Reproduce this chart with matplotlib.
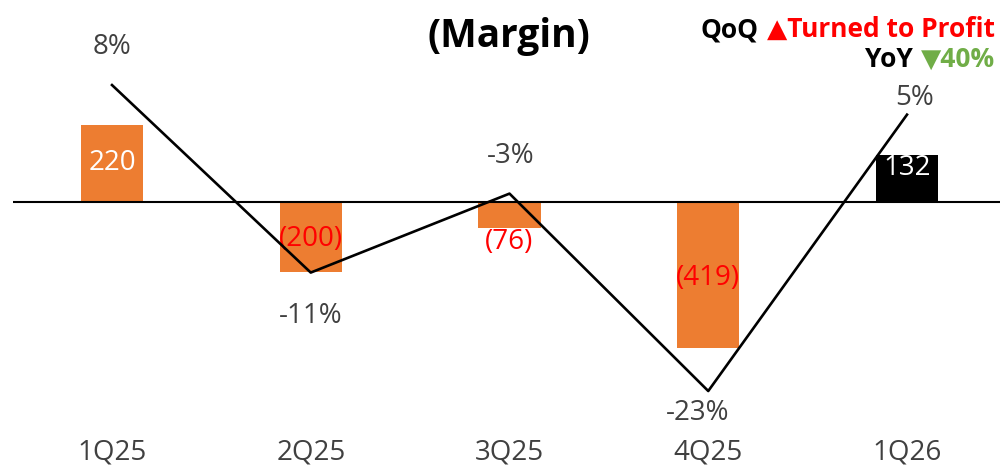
import matplotlib
matplotlib.use("Agg")
import matplotlib.pyplot as plt

# Quarterly operating result (bars) and margin in percent (line)
quarters = ["1Q25", "2Q25", "3Q25", "4Q25", "1Q26"]
profit = [220, -200, -76, -419, 132]
margin = [8, -11, -3, -23, 5]
profit_labels = ["220", "(200)", "(76)", "(419)", "132"]
margin_labels = ["8%", "-11%", "-3%", "-23%", "5%"]

W, H, DPI = 1000, 471, 100
FONT = ["Open Sans", "DejaVu Sans"]
plt.rcParams["font.family"] = FONT

ORANGE = "#ED7D31"
GREY = "#404040"
RED = "#FF0000"
GREEN = "#70AD47"

fig = plt.figure(figsize=(W / DPI, H / DPI), dpi=DPI)
ax = fig.add_axes([0, 0, 1, 1])
ax.set_xlim(-112 / 198.75, (W - 112) / 198.75)
ax.set_ylim(-(H - 201.5) / 0.35, 201.5 / 0.35)
ax.axis("off")

bar_colors = [ORANGE, ORANGE, ORANGE, ORANGE, "#000000"]
x = list(range(len(quarters)))
ax.bar(x, profit, width=0.312, color=bar_colors, zorder=2)
ax.plot([-0.5, 4.5], [0, 0], color="#000000", lw=1.5, zorder=3,
        solid_capstyle="butt")

# bar value labels: (anchor, offset in points, colour)
px = 0.72  # points per pixel
bar_label_style = [
    ("center", 0, "white"),
    ("center", -3, RED),
    ("end", -14, RED),
    ("center", -3, RED),
    ("end", -13, "white"),
]
for i, (v, lab, (anchor, dy, col)) in enumerate(zip(profit, profit_labels, bar_label_style)):
    y = v / 2 if anchor == "center" else v
    ax.annotate(lab, xy=(i, y), xytext=(0, dy * px), textcoords="offset points",
                ha="center", va="center", fontsize=20, color=col, zorder=4)

# category labels under the plot
for i, q in enumerate(quarters):
    ax.text(i, 1 - 452.5 / H, q, transform=ax.get_xaxis_transform(),
            ha="center", va="center", fontsize=20, color=GREY)

ax2 = ax.twinx()
ax2.set_ylim(-(H - 164) / 9.87, 164 / 9.87)
ax2.axis("off")
ax2.plot(x, margin, color="#000000", lw=1.9, zorder=5)

margin_offsets = [(0, 38.5), (0, -43), (1, 38), (-11, -22), (8, 16.5)]
for i, (m, lab, (dx, dy)) in enumerate(zip(margin, margin_labels, margin_offsets)):
    ax2.annotate(lab, xy=(i, m), xytext=(dx * px, dy * px), textcoords="offset points",
                 ha="center", va="center", fontsize=20, color=GREY)

# title and growth notes
fig.text(509 / W, 1 - 47 / H, "(Margin)", ha="center", va="baseline",
         fontsize=28, fontweight="bold", color="#000000")

fig.canvas.draw()
renderer = fig.canvas.get_renderer()


def note(y_px, head, tail, tail_color):
    t = fig.text(995 / W, 1 - y_px / H, tail, ha="right", va="baseline",
                 fontsize=19, fontweight="bold", color=tail_color, family=FONT)
    bb = t.get_window_extent(renderer)
    fig.text((bb.x0 - 8) / W, 1 - y_px / H, head, ha="right", va="baseline",
             fontsize=19, fontweight="bold", color="#000000", family=FONT)


note(37, "QoQ", "▲Turned to Profit", RED)
note(67, "YoY", "▼40%", GREEN)

fig.savefig("out.png", dpi=DPI)
